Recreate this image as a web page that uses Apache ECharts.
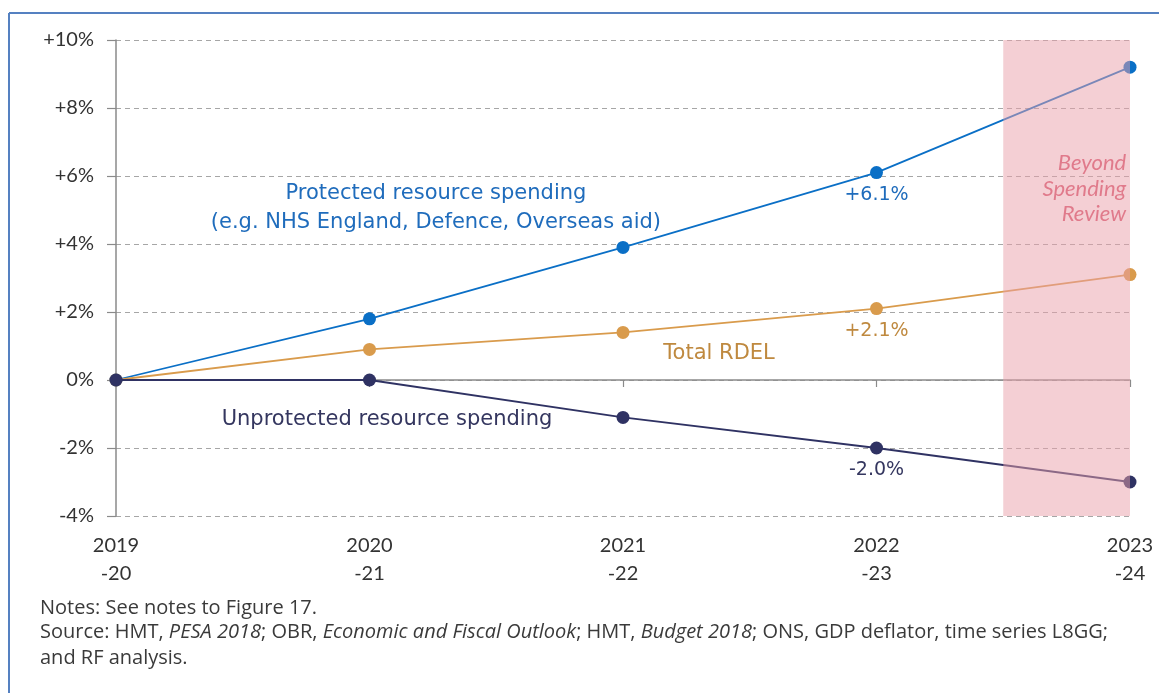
<!DOCTYPE html>
<html>
<head>
<meta charset="utf-8">
<script src="https://cdn.jsdelivr.net/npm/echarts@6/dist/echarts.min.js"></script>
<style>
html,body{margin:0;padding:0;background:#fff;}
#chart{width:1159px;height:693px;}
</style>
</head>
<body>
<div id="chart"></div>
<script>
// ---- data ----
const categories = ['2019\n-20', '2020\n-21', '2021\n-22', '2022\n-23', '2023\n-24'];
const protectedSpending = [0, 1.8, 3.9, 6.1, 9.2];
const totalRDEL = [0, 0.9, 1.4, 2.1, 3.1];
const unprotectedSpending = [0, 0, -1.1, -2.0, -3.0];
const yTickValues = [-4, -2, 0, 2, 4, 6, 8, 10];
const beyondStart = 3.5;   // shading starts half way between 2022-23 and 2023-24
const beyondEnd = 4;
const labelledIndex = 3;   // 2022-23 values are labelled

const seriesNames = {
  protected: ['Protected resource spending', '(e.g. NHS England, Defence, Overseas aid)'],
  total: 'Total RDEL',
  unprotected: 'Unprotected resource spending',
  beyond: 'Beyond\nSpending\nReview'
};

const C_BLUE = '#0a6fc6';
const C_ORANGE = '#d99b4c';
const C_NAVY = '#2f3263';
const LABEL_FONT = '"DejaVu Sans", "Noto Sans", sans-serif';
const AXIS_FONT = 'Lato, "Open Sans", sans-serif';
const NOTE_FONT = '"Open Sans", Lato, sans-serif';

function pairs(arr) { return arr.map((v, i) => [i, v]); }
function signed(v) { return (v > 0 ? '+' : '') + v.toFixed(1) + '%'; }

function lineSeries(name, data, color, labelColor, z) {
  return {
    name: name,
    type: 'line',
    data: pairs(data),
    z: z,
    symbol: 'circle',
    symbolSize: 13,
    lineStyle: { color: color, width: 1.8 },
    itemStyle: { color: color },
    label: {
      show: true,
      position: 'bottom',
      distance: 6,
      fontFamily: LABEL_FONT,
      fontSize: 19,
      color: labelColor,
      formatter: p => p.dataIndex === labelledIndex ? signed(p.value[1]) : ''
    },
    emphasis: { disabled: true },
    animation: false
  };
}

function textMark(x, y, text, color, extra) {
  return {
    coord: [x, y],
    symbol: 'circle',
    symbolSize: 0,
    label: Object.assign({
      show: true,
      position: 'inside',
      formatter: text,
      fontFamily: LABEL_FONT,
      fontSize: 21,
      color: color
    }, extra || {})
  };
}

const sProtected = lineSeries('protected', protectedSpending, C_BLUE, '#1f6cbc', 2);
sProtected.markPoint = {
  silent: true, animation: false,
  data: [
    textMark(1.262, 5.47, seriesNames.protected[0], '#1f6cbc'),
    textMark(1.262, 4.64, seriesNames.protected[1], '#1f6cbc')
  ]
};
const sTotal = lineSeries('total', totalRDEL, C_ORANGE, '#bf893f', 2);
sTotal.markPoint = {
  silent: true, animation: false,
  data: [textMark(2.379, 0.79, seriesNames.total, '#bf893f')]
};
const sUnprot = lineSeries('unprotected', unprotectedSpending, C_NAVY, '#34365f', 3);
sUnprot.markPoint = {
  silent: true, animation: false,
  data: [textMark(1.069, -1.15, seriesNames.unprotected, '#34365f')]
};

const sShade = {
  name: 'beyondShade',
  type: 'custom',
  z: 5,
  silent: true,
  animation: false,
  data: [[beyondStart, yTickValues[0], beyondEnd, yTickValues[yTickValues.length - 1]]],
  renderItem: (params, api) => {
    const a = api.coord([api.value(0), api.value(3)]);
    const b = api.coord([api.value(2), api.value(1)]);
    return {
      type: 'rect',
      shape: { x: a[0], y: a[1], width: b[0] - a[0], height: b[1] - a[1] },
      style: { fill: 'rgba(233,160,170,0.5)' }
    };
  }
};

const sBeyondText = {
  name: 'beyondText',
  type: 'line',
  data: [],
  z: 6,
  silent: true,
  animation: false,
  markPoint: {
    silent: true,
    animation: false,
    data: [textMark(3.985, 5.63, seriesNames.beyond, '#e07a8b', {
      position: 'left', distance: 0, align: 'right', fontStyle: 'italic',
      fontSize: 22, lineHeight: 25.5, fontFamily: 'Lato, "Open Sans", sans-serif'
    })]
  }
};

const chart = echarts.init(document.getElementById('chart'), null, { renderer: 'canvas' });

const option = {
  backgroundColor: '#ffffff',
  animation: false,
  grid: { left: 116, right: 29, top: 40, bottom: 177, containLabel: false },
  xAxis: [
    {
      type: 'value', min: 0, max: categories.length - 1, interval: 1,
      axisLine: { onZero: true, lineStyle: { color: '#8a8a8a', width: 1.5 } },
      axisTick: { show: true, inside: false, length: 7, lineStyle: { color: '#8a8a8a', width: 1.2 } },
      axisLabel: { show: false },
      splitLine: { show: false }
    },
    {
      type: 'value', min: 0, max: categories.length - 1, interval: 1,
      position: 'bottom',
      axisLine: { show: false, onZero: false },
      axisTick: { show: false },
      splitLine: { show: false },
      axisLabel: {
        show: true, margin: 16,
        fontFamily: AXIS_FONT, fontSize: 20, lineHeight: 28, color: '#333333',
        formatter: v => categories[v] || ''
      }
    }
  ],
  yAxis: {
    type: 'value', min: yTickValues[0], max: yTickValues[yTickValues.length - 1], interval: 2,
    axisLine: { show: true, lineStyle: { color: '#8a8a8a', width: 1.5 } },
    axisTick: { show: true, length: 9, lineStyle: { color: '#8a8a8a', width: 1.2 } },
    axisLabel: {
      margin: 22,
      fontFamily: AXIS_FONT, fontSize: 20, color: '#333333',
      formatter: v => (v > 0 ? '+' : '') + v + '%'
    },
    splitLine: { show: true, lineStyle: { color: '#a6a6a6', type: [5, 4], width: 1 } }
  },
  series: [sProtected, sTotal, sUnprot, sShade, sBeyondText],
  graphic: [
    { type: 'line', shape: { x1: 9, y1: 13, x2: 1159, y2: 13 }, style: { stroke: '#5581c1', lineWidth: 2 }, silent: true },
    { type: 'line', shape: { x1: 9, y1: 13, x2: 9, y2: 693 }, style: { stroke: '#5581c1', lineWidth: 2 }, silent: true },
    {
      type: 'text', left: 40, top: 598, silent: true,
      style: { text: 'Notes: See notes to Figure 17.', font: '20px ' + NOTE_FONT, fill: '#3a3a3a' }
    },
    {
      type: 'text', left: 40, top: 622, silent: true,
      style: {
        text: 'Source: HMT, {i|PESA 2018}; OBR, {i|Economic and Fiscal Outlook}; HMT, {i|Budget 2018}; ONS, GDP deflator, time series L8GG;',
        font: '20px ' + NOTE_FONT, fill: '#3a3a3a',
        rich: { i: { fontStyle: 'italic', fontFamily: NOTE_FONT, fontSize: 20, color: '#3a3a3a' } }
      }
    },
    {
      type: 'text', left: 40, top: 648, silent: true,
      style: { text: 'and RF analysis.', font: '20px ' + NOTE_FONT, fill: '#3a3a3a' }
    }
  ]
};

chart.setOption(option);
</script>
</body>
</html>
